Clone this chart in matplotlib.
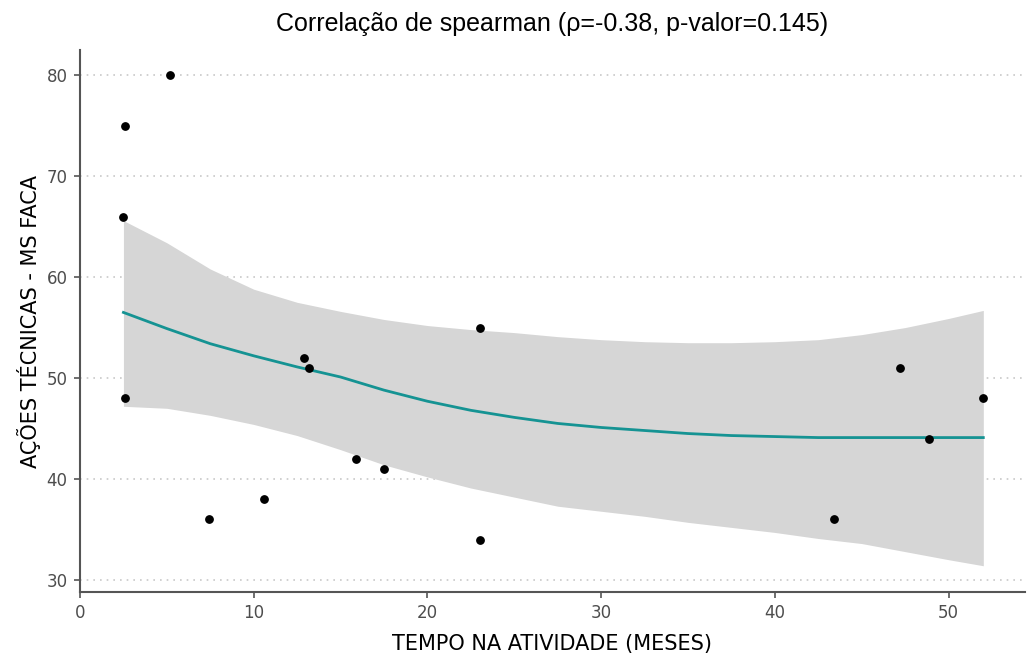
import matplotlib
matplotlib.use("Agg")
import matplotlib.pyplot as plt
import numpy as np

plt.rcParams['font.family'] = ['DejaVu Sans']

# Tempo na atividade (meses) e ações técnicas
tempo = [2.5, 2.6, 5.2, 2.6, 7.4, 10.6, 12.9, 13.2, 15.9, 17.5, 23.0, 23.0, 43.4, 47.2, 48.9, 52.0]
acoes = [66, 75, 80, 48, 36, 38, 52, 51, 42, 41, 55, 34, 36, 51, 44, 48]

# smoothed trend and its 95% band
curva_x = [2.5, 5, 7.5, 10, 12.5, 15, 17.5, 20, 22.5, 25, 27.5, 30, 32.5, 35, 37.5,
           40, 42.5, 45, 47.5, 50, 52]
curva_y = [56.5, 54.9, 53.4, 52.2, 51.1, 50.1, 48.8, 47.7, 46.8, 46.1, 45.5, 45.1, 44.8,
           44.5, 44.3, 44.2, 44.1, 44.1, 44.1, 44.1, 44.1]
banda_sup = [65.6, 63.4, 60.8, 58.8, 57.5, 56.6, 55.8, 55.2, 54.8, 54.5, 54.1, 53.8, 53.6,
             53.5, 53.5, 53.6, 53.8, 54.3, 55.0, 55.9, 56.7]
banda_inf = [47.2, 47.0, 46.3, 45.4, 44.3, 42.9, 41.4, 40.2, 39.1, 38.2, 37.3, 36.8, 36.3,
             35.7, 35.2, 34.7, 34.1, 33.6, 32.8, 32.0, 31.4]

fig = plt.figure(figsize=(10.28, 6.59), dpi=100)
ax = fig.add_axes([80 / 1028, 1 - 592 / 659, 945 / 1028, 542 / 659])

ax.fill_between(curva_x, banda_inf, banda_sup, color='#d6d6d6', lw=0, zorder=1)
ax.plot(curva_x, curva_y, color='#159393', lw=2, zorder=2)
ax.scatter(tempo, acoes, s=28, color='black', zorder=3)

ax.set_xlim(0, 54.4)
ax.set_ylim(28.8, 82.5)
ax.set_xticks([0, 10, 20, 30, 40, 50])
ax.set_yticks([30, 40, 50, 60, 70, 80])
ax.yaxis.grid(True, linestyle=(0, (1, 3)), color='#c8c8c8', lw=1.2)
ax.set_axisbelow(True)

for side in ['top', 'right']:
    ax.spines[side].set_visible(False)
for side in ['left', 'bottom']:
    ax.spines[side].set_color('#555555')
    ax.spines[side].set_linewidth(1.5)
ax.tick_params(colors='#555555', labelcolor='#4d4d4d', labelsize=12, width=1.2, length=4, pad=5)

ax.set_title("Correlação de spearman (ρ=-0.38, p-valor=0.145)", fontsize=18, pad=14,
             family=['Liberation Sans', 'DejaVu Sans'])
lbl = dict(fontsize=15, family=['DejaVu Sans'])
ax.set_xlabel("TEMPO NA ATIVIDADE (MESES)", labelpad=8, **lbl)
ax.set_ylabel("AÇÕES TÉCNICAS - MS FACA", labelpad=4, **lbl)

fig.savefig("out.png", dpi=100)
